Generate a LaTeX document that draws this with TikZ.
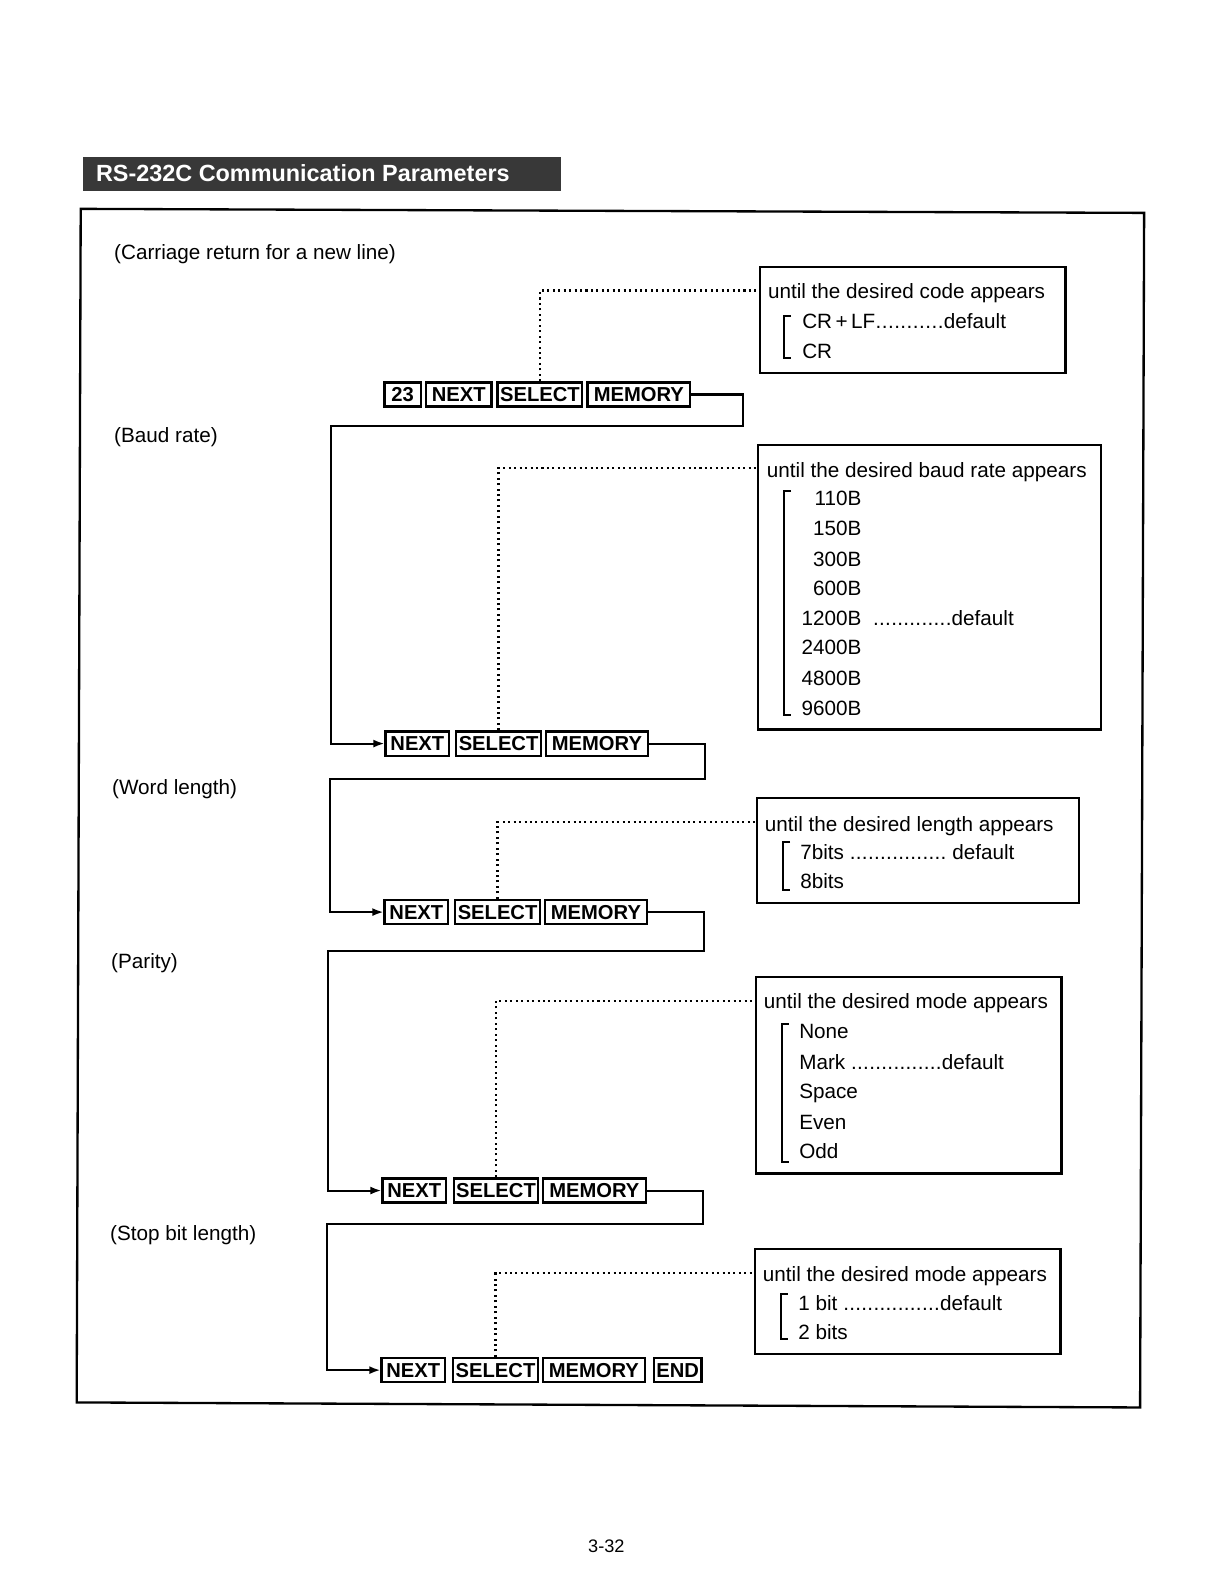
\documentclass[tikz,border=0pt]{standalone}
\usepackage{fontspec}
\setmainfont{Liberation Sans}
\usetikzlibrary{arrows.meta}
\newcommand\myleader[1]{\hbox to #1{\xleaders\hbox to 6pt{\hss.\hss}\hfill}}
\begin{document}
\begin{tikzpicture}[x=1pt,y=-1pt]
\tikzset{
  keybox/.style={draw, line width=2.3pt, inner sep=0pt, minimum height=24pt,
    font=\fontsize{20}{24}\selectfont\bfseries, anchor=west},
  arr/.style={line width=2pt, -{Latex[length=11pt,width=8pt]}},
  dots/.style={line width=2.2pt, dash pattern=on 2pt off 3.4pt},
  infobox/.style={draw, line width=2.1pt, anchor=north west, inner sep=0pt},
  txt/.style={font=\fontsize{20.5}{24}\selectfont, inner sep=0pt, anchor=base west},
  num/.style={font=\fontsize{20.5}{24}\selectfont, inner sep=0pt, anchor=base east},
  brk/.style={line width=2pt},
}
\useasboundingbox (0,0) rectangle (1203,1568);
% title bar
\node[fill=black!78, minimum width=474pt, minimum height=34pt, anchor=north west, inner sep=0pt] (bar) at (82,155) {};
\node[txt, text=white, font=\fontsize{23.2}{26}\selectfont\bfseries] (title) at (95,180) {RS-232C Communication Parameters};
% outer frame
\draw[line width=2.3pt] (80,207) coordinate (f1) -- (1134,211) coordinate (f2) -- (1130,1395) coordinate (f3) -- (76,1390) coordinate (f4) -- cycle;
% section labels
\node[txt] (l1) at (113,257) {(Carriage return for a new line)};
\node[txt] (l2) at (113,439) {(Baud rate)};
\node[txt] (l3) at (111,787) {(Word length)};
\node[txt] (l4) at (110,960) {(Parity)};
\node[txt] (l5) at (109,1230) {(Stop bit length)};
\node[font=\fontsize{18}{20}\selectfont, inner sep=0pt, anchor=base] (page) at (601,1539) {3-32};
% row 1 keys
\node[keybox, minimum width=36pt] (k1) at (380,391) {23};
\node[keybox, minimum width=65pt] (n1) at (421,391) {NEXT};
\node[keybox, minimum width=84pt] (s1) at (492,391) {SELECT};
\node[keybox, minimum width=102pt] (m1) at (581,391) {MEMORY};
% row 2
\node[keybox, minimum width=63pt] (n2) at (381,737) {NEXT};
\node[keybox, minimum width=84pt] (s2) at (451,737) {SELECT};
\node[keybox, minimum width=101pt] (m2) at (540,737) {MEMORY};
% row 3
\node[keybox, minimum width=63pt] (n3) at (380,904) {NEXT};
\node[keybox, minimum width=84pt] (s3) at (450,904) {SELECT};
\node[keybox, minimum width=101pt] (m3) at (539,904) {MEMORY};
% row 4
\node[keybox, minimum width=63pt] (n4) at (378,1180) {NEXT};
\node[keybox, minimum width=83pt] (s4) at (449,1180) {SELECT};
\node[keybox, minimum width=102pt] (m4) at (537,1180) {MEMORY};
% row 5
\node[keybox, minimum width=63pt] (n5) at (377,1358) {NEXT};
\node[keybox, minimum width=84pt] (s5) at (448,1358) {SELECT};
\node[keybox, minimum width=101pt] (m5) at (537,1358) {MEMORY};
\node[keybox, minimum width=47pt] (e5) at (647,1358) {END};
% connectors
\coordinate (c1a) at (736,422); \coordinate (c1b) at (328,422);
\draw[arr] (m1.east) -| (c1a) -- (c1b) |- (n2.west);
\coordinate (c2a) at (699,772); \coordinate (c2b) at (327,772);
\draw[arr] (m2.east) -| (c2a) -- (c2b) |- (n3.west);
\coordinate (c3a) at (698,943); \coordinate (c3b) at (325,943);
\draw[arr] (m3.east) -| (c3a) -- (c3b) |- (n4.west);
\coordinate (c4a) at (697,1213); \coordinate (c4b) at (324,1213);
\draw[arr] (m4.east) -| (c4a) -- (c4b) |- (n5.west);
% info boxes
\node[infobox, minimum width=303pt, minimum height=105pt] (b1) at (752,264) {};
\node[infobox, minimum width=340pt, minimum height=282pt] (b2) at (750,440) {};
\node[infobox, minimum width=319pt, minimum height=104pt] (b3) at (749,790) {};
\node[infobox, minimum width=303pt, minimum height=195pt] (b4) at (748,967) {};
\node[infobox, minimum width=303pt, minimum height=104pt] (b5) at (747,1237) {};
% dotted leaders
\coordinate (d1) at (752,288);
\draw[dots] (s1.north) |- (d1);
\coordinate (d2) at (750,464);
\draw[dots] (s2.north) |- (d2);
\coordinate (d3) at (749,815);
\draw[dots] (s3.north) |- (d3);
\coordinate (d4) at (748,992);
\draw[dots] (s4.north) |- (d4);
\coordinate (d5) at (747,1262);
\draw[dots] (s5.north) |- (d5);
% box 1
\node[txt] (t1) at (761,296) {until the desired code appears};
\draw[brk] (784,313) -- (777,313) -- (777,355) -- (784,355);
\node[txt] (t1a) at (795,326) {CR\,+\,LF\myleader{68pt}default};
\node[txt] (t1b) at (795,355) {CR};
% box 2
\node[txt] (t2) at (760,473) {until the desired baud rate appears};
\draw[brk] (784,487) -- (777,487) -- (777,709) -- (784,709);
\node[num] (t2a) at (854,501) {110B};
\node[num] (t2b) at (854,531) {150B};
\node[num] (t2c) at (854,561) {300B};
\node[num] (t2d) at (854,590) {600B};
\node[num] (t2e) at (854,620) {1200B};
\node[txt] (t2ed) at (865,620) {\myleader{78pt}default};
\node[num] (t2f) at (854,649) {2400B};
\node[num] (t2g) at (854,679) {4800B};
\node[num] (t2h) at (854,709) {9600B};
% box 3
\node[txt] (t3) at (758,824) {until the desired length appears};
\draw[brk] (783,835) -- (776,835) -- (776,882) -- (783,882);
\node[txt] (t3a) at (793,852) {7bits \myleader{96pt}\ default};
\node[txt] (t3b) at (793,881) {8bits};
% box 4
\node[txt] (t4) at (757,1000) {until the desired mode appears};
\draw[brk] (782,1015) -- (775,1015) -- (775,1152) -- (782,1152);
\node[txt] (t4a) at (792,1029) {None};
\node[txt] (t4b) at (792,1060) {Mark \myleader{90pt}default};
\node[txt] (t4c) at (792,1089) {Space};
\node[txt] (t4d) at (792,1119) {Even};
\node[txt] (t4e) at (792,1148) {Odd};
% box 5
\node[txt] (t5) at (756,1270) {until the desired mode appears};
\draw[brk] (781,1283) -- (774,1283) -- (774,1327) -- (781,1327);
\node[txt] (t5a) at (791,1299) {1 bit \myleader{96pt}default};
\node[txt] (t5b) at (791,1328) {2 bits};
\end{tikzpicture}
\end{document}
